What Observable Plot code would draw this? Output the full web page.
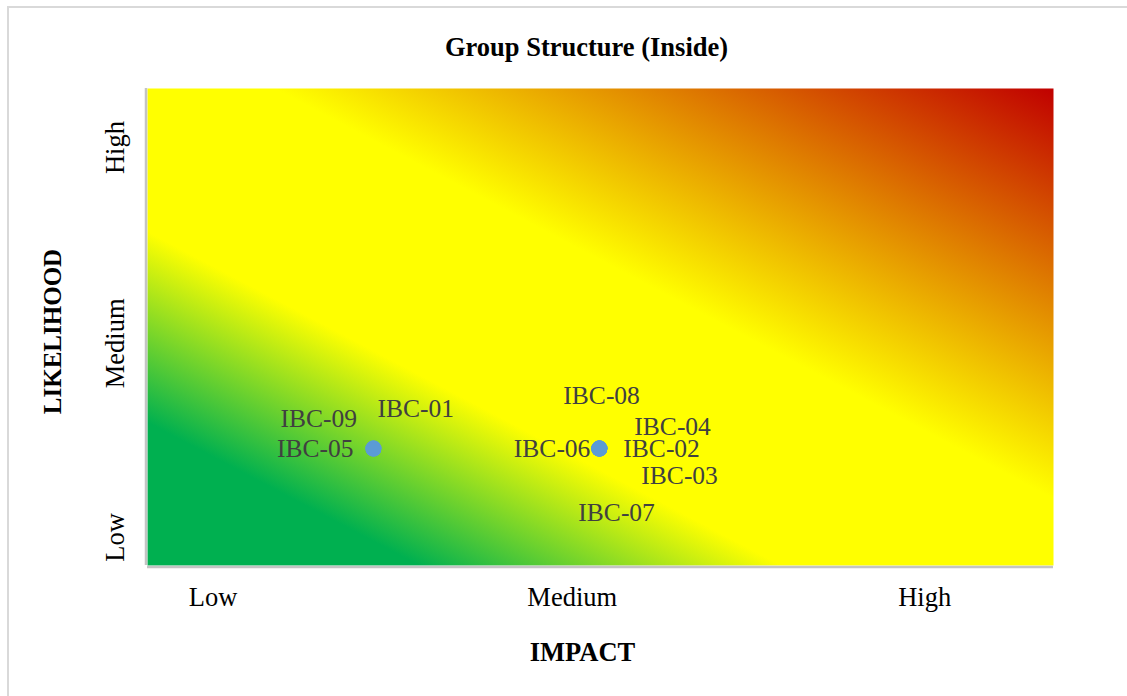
<!DOCTYPE html>
<html>
<head>
<meta charset="utf-8">
<script src="https://cdn.jsdelivr.net/npm/d3@7"></script>
<script src="https://cdn.jsdelivr.net/npm/@observablehq/plot@0.6"></script>
<style>
  html, body { margin: 0; padding: 0; background: #fff; overflow: hidden; }
  #wrap { position: relative; width: 1127px; height: 696px; overflow: hidden; }
  #edge { position: absolute; left: 7px; top: 6px; width: 1400px; height: 900px;
          border-left: 2px solid #d9d9d9; border-top: 2px solid #d9d9d9; pointer-events: none; }
  #chart { position: absolute; left: 0; top: 0; }
  #chart svg { font-family: "Liberation Serif", "Times New Roman", serif; }
</style>
</head>
<body>
<div id="wrap"><div id="chart"></div><div id="edge"></div></div>
<script>
// Risk register: each risk scored on impact and likelihood (1 = low end of scale)
const riskIds = ["IBC-01", "IBC-02", "IBC-03", "IBC-04", "IBC-05", "IBC-06", "IBC-07", "IBC-08", "IBC-09"];
const impactScore = [1, 2, 2, 2, 1, 2, 2, 2, 1];
const likelihoodScore = [1, 1, 1, 1, 1, 1, 1, 1, 1];

// Qualitative band labels and where they sit on the score scales
const levelLabels = ["Low", "Medium", "High"];
const impactLabelAt = [0.29, 1.88, 3.44];
const likelihoodLabelAt = [0.24, 1.9, 3.575];

// Label placement around overlapping points: [dx, dy, anchor]
const labelNudge = [
  [4, -40, "start"], [24, 0, "start"], [42, 27, "start"], [35, -22, "start"],
  [-20, 0, "end"], [-9, 0, "end"], [-21, 64, "start"], [-36, -53, "start"], [-93, -30, "start"]
];

const risks = riskIds.map((id, i) => ({id, impact: impactScore[i], likelihood: likelihoodScore[i]}));
const xTicks = levelLabels.map((label, i) => ({label, at: impactLabelAt[i]}));
const yTicks = levelLabels.map((label, i) => ({label, at: likelihoodLabelAt[i]}));

const labelMarks = risks.map((r, i) => Plot.text([r], {
  x: "impact", y: "likelihood", text: "id",
  dx: labelNudge[i][0], dy: labelNudge[i][1], textAnchor: labelNudge[i][2],
  fill: "#404040", fontSize: 25.5
}));

const chart = Plot.plot({
  width: 1127,
  height: 696,
  marginLeft: 147,
  marginRight: 74,
  marginTop: 88,
  marginBottom: 131,
  x: {domain: [0, 4.01], axis: null},
  y: {domain: [0, 4.08], axis: null},
  marks: [
    Plot.frame({fill: "url(#riskGradient)", stroke: "none"}),
    Plot.ruleX([0], {stroke: "#c4c4c4", strokeWidth: 2.5, dx: -1.5}),
    Plot.ruleY([0], {stroke: "#c4c4c4", strokeWidth: 2.5, dy: 1.5}),
    Plot.dot(risks, {x: "impact", y: "likelihood", r: 8, fill: "#5b9bd5", stroke: "none"}),
    ...labelMarks,
    // band labels along the impact axis
    Plot.text(xTicks, {x: "at", text: "label", frameAnchor: "bottom", lineAnchor: "middle", dy: 32, fontSize: 26.5, fill: "#000"}),
    // band labels along the likelihood axis
    Plot.text(yTicks, {y: "at", text: "label", frameAnchor: "left", textAnchor: "middle", lineAnchor: "middle", dx: -32, rotate: -90, fontSize: 26.5, fill: "#000"}),
    // axis titles and chart title
    Plot.text(["IMPACT"], {frameAnchor: "bottom", lineAnchor: "middle", dx: -18, dy: 87.5, fontSize: 26.5, fontWeight: "bold", fill: "#000"}),
    Plot.text(["LIKELIHOOD"], {frameAnchor: "left", textAnchor: "middle", lineAnchor: "middle", dx: -95, dy: 4.5, rotate: -90, fontSize: 25, fontWeight: "bold", fill: "#000"}),
    Plot.text(["Group Structure (Inside)"], {frameAnchor: "top", lineAnchor: "middle", dx: -14, dy: -41, fontSize: 26.5, fontWeight: "bold", fill: "#000"})
  ]
});

// Diagonal risk gradient: green (low) through yellow to red (high)
const svg = d3.select(chart);
const grad = svg.insert("defs", ":first-child")
  .append("linearGradient")
  .attr("id", "riskGradient")
  .attr("x1", 0).attr("y1", 1).attr("x2", 1).attr("y2", 0);
[[0, "#00b050"], [0.15, "#00b050"], [0.35, "#ffff00"], [0.57, "#ffff00"], [1, "#c00000"]]
  .forEach(([o, c]) => grad.append("stop").attr("offset", o).attr("stop-color", c));
svg.select('[aria-label="frame"]').attr("fill", "url(#riskGradient)");
svg.selectAll('[aria-label="frame"] rect, rect[aria-label="frame"]').attr("fill", "url(#riskGradient)");

document.getElementById("chart").appendChild(chart);
</script>
</body>
</html>
